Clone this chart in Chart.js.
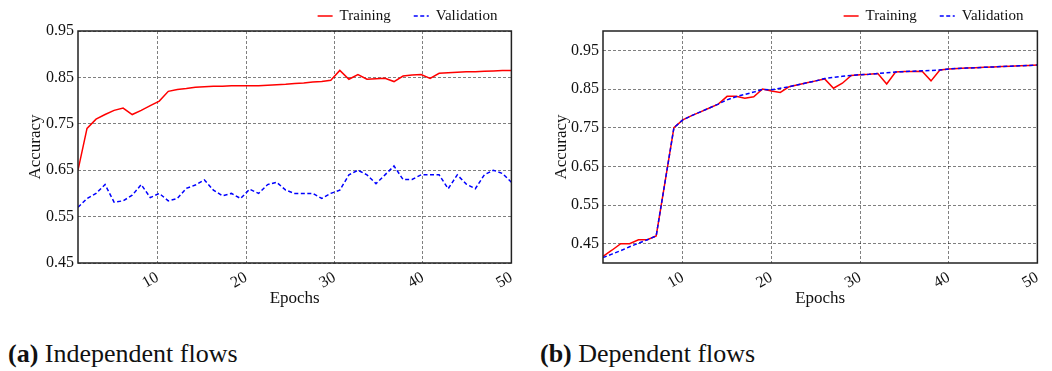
<!DOCTYPE html>
<html>
<head>
<meta charset="utf-8">
<script src="https://cdn.jsdelivr.net/npm/chart.js@4.4.0/dist/chart.umd.min.js"></script>
<style>
  body { margin: 0; background: #fff; }
  #wrap { position: relative; width: 1052px; height: 371px; font-family: 'Liberation Serif', serif; color: #111; }
  .box { position: absolute; top: 0; width: 526px; height: 310px; }
  .cap { position: absolute; top: 339px; font-size: 26px; line-height: 30px; white-space: nowrap; }
</style>
</head>
<body>
<div id="wrap">
  <div class="box" style="left:0"><canvas id="chartA"></canvas></div>
  <div class="box" style="left:526px"><canvas id="chartB"></canvas></div>
  <div class="cap" style="left:8px"><b>(a)</b> Independent flows</div>
  <div class="cap" style="left:540px"><b>(b)</b> Dependent flows</div>
</div>
<script>
const epochTicks = [10, 20, 30, 40, 50];
const accTicks = [0.45, 0.55, 0.65, 0.75, 0.85, 0.95];

// (a) independent flows - 49 samples spread over epochs 1..50
const epochsA = [1.00, 2.02, 3.04, 4.06, 5.08, 6.10, 7.13, 8.15, 9.17, 10.19,
  11.21, 12.23, 13.25, 14.27, 15.29, 16.31, 17.33, 18.35, 19.38, 20.40,
  21.42, 22.44, 23.46, 24.48, 25.50, 26.52, 27.54, 28.56, 29.58, 30.60,
  31.63, 32.65, 33.67, 34.69, 35.71, 36.73, 37.75, 38.77, 39.79, 40.81,
  41.83, 42.85, 43.88, 44.90, 45.92, 46.94, 47.96, 48.98, 50.00];
const trainA = [0.650, 0.740, 0.760, 0.770, 0.779, 0.784, 0.770, 0.779, 0.789, 0.799,
  0.820, 0.824, 0.826, 0.829, 0.830, 0.831, 0.831, 0.832, 0.832, 0.832,
  0.832, 0.833, 0.834, 0.835, 0.837, 0.838, 0.840, 0.841, 0.844, 0.865,
  0.846, 0.856, 0.846, 0.847, 0.848, 0.841, 0.853, 0.855, 0.856, 0.848,
  0.859, 0.860, 0.861, 0.862, 0.862, 0.863, 0.864, 0.865, 0.865];
const valA = [0.570, 0.589, 0.600, 0.619, 0.581, 0.584, 0.596, 0.619, 0.591, 0.600,
  0.584, 0.589, 0.611, 0.618, 0.629, 0.607, 0.595, 0.600, 0.589, 0.609,
  0.600, 0.619, 0.624, 0.607, 0.600, 0.600, 0.600, 0.589, 0.600, 0.607,
  0.640, 0.650, 0.640, 0.621, 0.640, 0.659, 0.630, 0.630, 0.640, 0.640,
  0.640, 0.610, 0.640, 0.620, 0.610, 0.640, 0.650, 0.643, 0.624];

// (b) dependent flows - one sample per epoch
const epochsB = [1, 2, 3, 4, 5, 6, 7, 8, 9, 10, 11, 12, 13, 14, 15, 16, 17, 18, 19, 20,
  21, 22, 23, 24, 25, 26, 27, 28, 29, 30, 31, 32, 33, 34, 35, 36, 37, 38, 39, 40,
  41, 42, 43, 44, 45, 46, 47, 48, 49, 50];
const trainB = [0.417, 0.433, 0.450, 0.450, 0.460, 0.460, 0.470, 0.610, 0.750, 0.770,
  0.781, 0.791, 0.801, 0.811, 0.831, 0.831, 0.826, 0.830, 0.850, 0.845,
  0.841, 0.856, 0.861, 0.866, 0.871, 0.876, 0.852, 0.865, 0.885, 0.887,
  0.888, 0.890, 0.863, 0.894, 0.895, 0.895, 0.896, 0.871, 0.899, 0.902,
  0.903, 0.904, 0.905, 0.906, 0.907, 0.908, 0.909, 0.910, 0.911, 0.912];
const valB = [0.414, 0.423, 0.432, 0.442, 0.451, 0.460, 0.470, 0.610, 0.750, 0.770,
  0.781, 0.791, 0.801, 0.811, 0.822, 0.830, 0.836, 0.842, 0.849, 0.848,
  0.852, 0.856, 0.861, 0.866, 0.871, 0.877, 0.880, 0.883, 0.885, 0.887,
  0.888, 0.890, 0.892, 0.894, 0.895, 0.896, 0.897, 0.898, 0.899, 0.902,
  0.903, 0.904, 0.905, 0.906, 0.907, 0.908, 0.909, 0.910, 0.911, 0.912];

Chart.defaults.font.family = "'Liberation Serif', serif";
Chart.defaults.color = '#111';

// box around the plot + legend in the top right corner
const frameAndLegend = {
  id: 'frameAndLegend',
  afterDraw(chart) {
    const { ctx, chartArea: a } = chart;
    ctx.save();
    ctx.strokeStyle = '#222';
    ctx.lineWidth = 1.5;
    ctx.setLineDash([]);
    ctx.strokeRect(a.left, a.top, a.right - a.left, a.bottom - a.top);

    ctx.font = "15px 'Liberation Serif'";
    ctx.textBaseline = 'middle';
    const y = 16;
    let x = a.right - 14;
    const sets = chart.data.datasets;
    for (let i = sets.length - 1; i >= 0; i--) {
      const ds = sets[i];
      x -= ctx.measureText(ds.label).width;
      ctx.fillStyle = '#111';
      ctx.fillText(ds.label, x, y);
      x -= 7;
      ctx.strokeStyle = ds.borderColor;
      ctx.lineWidth = ds.borderWidth;
      ctx.setLineDash(ds.borderDash || []);
      ctx.beginPath();
      ctx.moveTo(x - 15, y);
      ctx.lineTo(x, y);
      ctx.stroke();
      x -= 15 + 23;
    }
    ctx.restore();
  }
};

function makeChart(id, xs, train, val, yMin, yMax, axisWidth, padRight) {
  return new Chart(document.getElementById(id), {
    type: 'line',
    data: {
      datasets: [
        {
          label: 'Training',
          data: xs.map((x, i) => ({ x: x, y: train[i] })),
          borderColor: '#ff0000',
          borderWidth: 1.5,
          pointRadius: 0,
          tension: 0,
          order: 1
        },
        {
          label: 'Validation',
          data: xs.map((x, i) => ({ x: x, y: val[i] })),
          borderColor: '#0000ff',
          borderWidth: 1.5,
          borderDash: [4, 2.5],
          pointRadius: 0,
          tension: 0,
          order: 0
        }
      ]
    },
    options: {
      responsive: true,
      maintainAspectRatio: false,
      animation: false,
      layout: { padding: { top: 31, right: padRight, left: 0, bottom: 0 } },
      plugins: { legend: { display: false }, tooltip: { enabled: false } },
      scales: {
        x: {
          type: 'linear',
          min: 1,
          max: 50,
          afterBuildTicks: axis => { axis.ticks = epochTicks.map(v => ({ value: v })); },
          afterFit: axis => { axis.height = 47; },
          grid: { color: 'rgba(0,0,0,0.5)', lineWidth: 1, drawTicks: false },
          border: { display: false, dash: [3, 2] },
          ticks: { font: { size: 16 }, maxRotation: 30, minRotation: 30, padding: 5 },
          title: { display: true, text: 'Epochs', font: { size: 17 }, padding: { top: 0, bottom: 1 } }
        },
        y: {
          min: yMin,
          max: yMax,
          afterBuildTicks: axis => { axis.ticks = accTicks.map(v => ({ value: v })); },
          afterFit: axis => { axis.width = axisWidth; },
          grid: { color: 'rgba(0,0,0,0.5)', lineWidth: 1, drawTicks: false },
          border: { display: false, dash: [3, 2] },
          ticks: { font: { size: 16 }, padding: 4, callback: v => v.toFixed(2) },
          title: { display: true, text: 'Accuracy', font: { size: 17 }, padding: { top: 25, bottom: 0 } }
        }
      }
    },
    plugins: [frameAndLegend]
  });
}

makeChart('chartA', epochsA, trainA, valA, 0.45, 0.95, 78, 12);
makeChart('chartB', epochsB, trainB, valB, 0.40, 1.00, 77, 7);
</script>
</body>
</html>
